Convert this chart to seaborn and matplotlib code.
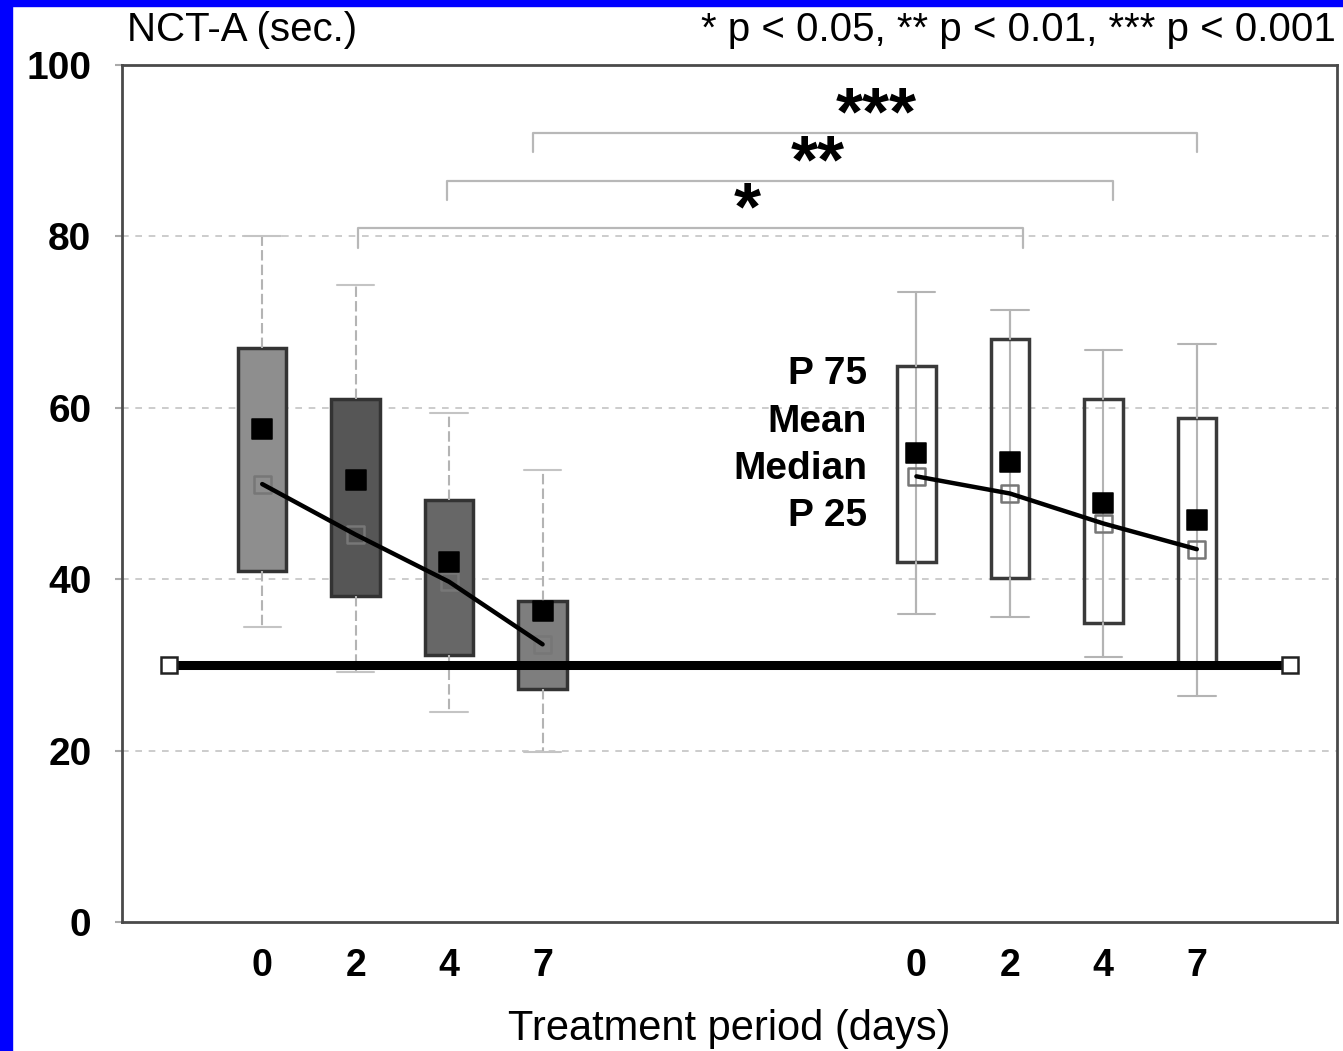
import numpy as np
import pandas as pd
import matplotlib
matplotlib.use("Agg")
import matplotlib.pyplot as plt
import seaborn as sns
from matplotlib.patches import Rectangle

# tick labels (days) and box positions of the two groups
DAYS = ["0", "2", "4", "7"]
POS_A = [1, 2, 3, 4]
POS_B = [8, 9, 10, 11]

# group A (shaded boxes)
A_P25 = [41.0, 38.0, 31.2, 27.2]
A_P75 = [67.0, 61.0, 49.2, 37.5]
A_MEAN = [57.5, 51.6, 42.0, 36.3]
A_MEDIAN = [51.1, 45.2, 39.7, 32.4]
A_LO = [34.4, 29.2, 24.5, 19.8]
A_HI = [80.0, 74.3, 59.4, 52.7]
A_FILL = ["#8e8e8e", "#565656", "#676767", "#7e7e7e"]

# group B (open boxes)
B_P25 = [42.0, 40.1, 34.9, 30.0]
B_P75 = [64.9, 68.0, 61.0, 58.8]
B_MEAN = [54.7, 53.7, 48.9, 46.9]
B_MEDIAN = [52.0, 50.0, 46.5, 43.5]
B_LO = [35.9, 35.6, 30.9, 26.4]
B_HI = [73.5, 71.4, 66.7, 67.4]

# reference level (thick line) and its span
REF_LEVEL = 30
REF_SPAN = [0, 12]

# significance brackets: (x left, x right, height, label)
BRACKETS = [(3.9, 11.0, 92.1, "***"), (2.98, 10.1, 86.5, "**"), (2.02, 9.14, 81.0, "*")]
STAR_X = [7.57, 6.94, 6.19]

LEGEND_LABELS = ["P 75", "Mean", "Median", "P 25"]
LEGEND_Y = [63.9, 58.4, 52.9, 47.4]

sns.set_style("white")
plt.rcParams['font.family'] = ['Liberation Sans', 'DejaVu Sans']
plt.rcParams.update({"text.color": "black", "axes.labelcolor": "black",
                     "xtick.labelcolor": "black", "ytick.labelcolor": "black"})

fig = plt.figure(figsize=(13.43, 10.51), dpi=100)
ax = fig.add_axes([122 / 1343, 1 - 922 / 1051, (1337 - 122) / 1343, (922 - 65) / 1051])

# blue border of the screenshot (left and top)
fig.patches.append(Rectangle((0, 0), 12 / 1343, 1, transform=fig.transFigure, color="#0000ff", zorder=10))
fig.patches.append(Rectangle((0, 1 - 6 / 1051), 1, 6 / 1051, transform=fig.transFigure, color="#0000ff", zorder=10))

for yv in [20, 40, 60, 80]:
    ax.axhline(yv, color="#c4c4c4", lw=1.2, ls=(0, (4, 4)), zorder=0)


def stats(p25, p75, med, lo, hi):
    return [dict(q1=a, q3=b, med=m, whislo=l, whishi=h, fliers=[])
            for a, b, m, l, h in zip(p25, p75, med, lo, hi)]


# group A boxes
bpA = ax.bxp(stats(A_P25, A_P75, A_MEDIAN, A_LO, A_HI), positions=POS_A, widths=0.52,
             patch_artist=True, showfliers=False, capwidths=0.4,
             boxprops=dict(edgecolor="#333333", linewidth=2.5),
             whiskerprops=dict(color="#b4b4b4", linewidth=1.5, linestyle=(0, (5, 2))),
             capprops=dict(color="#c4c4c4", linewidth=1.5),
             medianprops=dict(linewidth=0), zorder=3)
for patch, col in zip(bpA["boxes"], A_FILL):
    patch.set_facecolor(col)

# group B boxes, whisker line runs through the box
ax.vlines(POS_B, B_LO, B_HI, color="#b4b4b4", lw=1.5, zorder=2)
bpB = ax.bxp(stats(B_P25, B_P75, B_MEDIAN, B_LO, B_HI), positions=POS_B, widths=0.41,
             patch_artist=True, showfliers=False, capwidths=0.4,
             boxprops=dict(edgecolor="#3a3a3a", facecolor="none", linewidth=2.5),
             whiskerprops=dict(color="#b4b4b4", linewidth=1.5),
             capprops=dict(color="#b4b4b4", linewidth=1.5),
             medianprops=dict(linewidth=0), zorder=3)

# reference line
ax.plot(REF_SPAN, [REF_LEVEL, REF_LEVEL], color="black", lw=6.5, zorder=5, solid_capstyle="butt")
ax.plot(REF_SPAN, [REF_LEVEL, REF_LEVEL], ls="none", marker="s", ms=11, mfc="white",
        mec="#222222", mew=1.8, zorder=6)

# medians, median lines and means
for pos, med, mean in [(POS_A, A_MEDIAN, A_MEAN), (POS_B, B_MEDIAN, B_MEAN)]:
    df = pd.DataFrame({"x": pos, "median": med, "mean": mean})
    sns.scatterplot(data=df, x="x", y="median", marker="s", s=150, facecolor="none",
                    edgecolor="#777777", linewidth=1.8, ax=ax, zorder=6)
    sns.lineplot(data=df, x="x", y="median", color="black", lw=3.2, ax=ax, zorder=7)
    sns.scatterplot(data=df, x="x", y="mean", marker="s", s=190, color="black",
                    edgecolor="black", ax=ax, zorder=8)

# significance brackets
for (x0, x1, h, lab), sx in zip(BRACKETS, STAR_X):
    ax.plot([x0, x0, x1, x1], [h - 2.3, h, h, h - 2.3], color="#b8b8b8", lw=1.6, zorder=1)
    ax.text(sx, h - 0.2, lab, ha="center", va="baseline", fontsize=50, fontweight="bold")

for lab, yv in zip(LEGEND_LABELS, LEGEND_Y):
    ax.text(7.47, yv, lab, ha="right", va="center", fontsize=28, fontweight="bold")

ax.set_xlim(-0.5, 12.5)
ax.set_ylim(0, 100)
ax.set_xticks(POS_A + POS_B)
ax.set_xticklabels(DAYS + DAYS, fontsize=27, fontweight="bold")
ax.set_yticks([0, 20, 40, 60, 80, 100])
ax.set_yticklabels(["0", "20", "40", "60", "80", "100"], fontsize=28, fontweight="bold")
ax.tick_params(axis="x", length=0, pad=19)
ax.tick_params(axis="y", length=5, width=1.5, color="#aaaaaa", pad=17, left=True)
ax.set_xlabel("Treatment period (days)", fontsize=30, labelpad=18)
ax.set_ylabel("")
for sp in ax.spines.values():
    sp.set_visible(True)
    sp.set_color("#4a4a4a")
    sp.set_linewidth(2)

fig.text(127 / 1343, 1 - 30 / 1051, "NCT-A (sec.)", ha="left", va="center", fontsize=29)
fig.text(1336 / 1343, 1 - 30 / 1051, "* p < 0.05, ** p < 0.01, *** p < 0.001",
         ha="right", va="center", fontsize=29)

fig.savefig("out.png", dpi=100, facecolor="white")
